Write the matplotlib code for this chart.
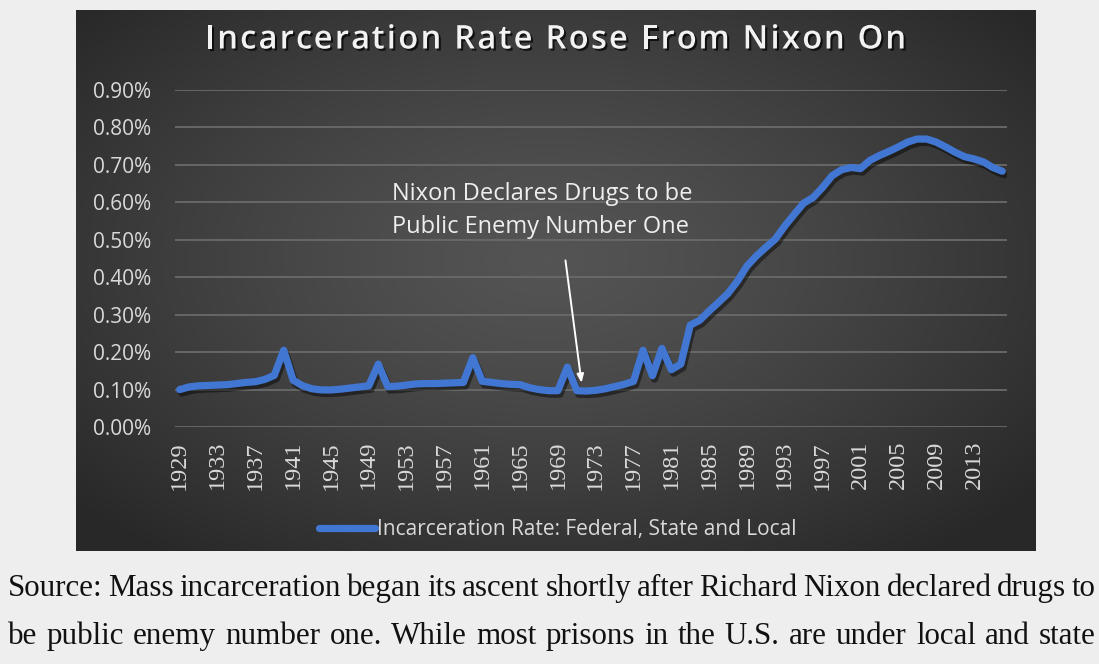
import numpy as np
import matplotlib
matplotlib.use("Agg")
import matplotlib.pyplot as plt
import matplotlib.patheffects as pe

# ---- data ----
years = list(range(1929, 2017))
rate_pct = [
    0.100, 0.107, 0.110, 0.111, 0.112, 0.113, 0.116, 0.119, 0.121, 0.127,
    0.138, 0.205, 0.125, 0.110, 0.102, 0.099, 0.099, 0.101, 0.104, 0.107,
    0.110, 0.168, 0.108, 0.109, 0.112, 0.115, 0.116, 0.116, 0.117, 0.118,
    0.119, 0.185, 0.122, 0.119, 0.116, 0.114, 0.113, 0.105, 0.100, 0.097,
    0.097, 0.160, 0.097, 0.096, 0.098, 0.102, 0.108, 0.114, 0.122, 0.205,
    0.137, 0.210, 0.153, 0.168, 0.272, 0.285, 0.310, 0.333, 0.357, 0.390,
    0.430, 0.457, 0.480, 0.502, 0.537, 0.568, 0.598, 0.613, 0.640, 0.671,
    0.687, 0.693, 0.690, 0.712, 0.725, 0.736, 0.748, 0.761, 0.769, 0.769,
    0.761, 0.748, 0.734, 0.722, 0.716, 0.708, 0.693, 0.683,
]
tick_years = list(range(1929, 2017, 4))
y_ticks = [0.0, 0.1, 0.2, 0.3, 0.4, 0.5, 0.6, 0.7, 0.8, 0.9]
title = "Incarceration Rate Rose From Nixon On"
series_label = "Incarceration Rate: Federal, State and Local"
annotation_lines = ["Nixon Declares Drugs to be", "Public Enemy Number One"]
caption_lines = [
    "Source: Mass incarceration began its ascent shortly after Richard Nixon declared drugs to",
    "be public enemy number one. While most prisons in the U.S. are under local and state",
]

W, H = 1099, 664
fig = plt.figure(figsize=(W / 100, H / 100), dpi=100, facecolor="#eeeeee")
renderer = fig.canvas.get_renderer()

def fx(px):
    return px / W

def fy(py):
    return 1 - py / H

# ---- dark gradient panel ----
pl, pr, pt, pb = 76, 1036, 10, 551
bg = fig.add_axes([fx(pl), fy(pb), fx(pr - pl), fy(pt) - fy(pb)], zorder=0)
gx = np.linspace(-1, 1, 400)
gy = np.linspace(-1, 1, 240)
GX, GY = np.meshgrid(gx, gy)
r = np.sqrt(((GX + 0.02) / 1.0) ** 2 + ((GY + 0.08) / 1.05) ** 2)
r = np.clip(r, 0, 1.3)
val = 0.33 - 0.17 * (r / 1.3) ** 1.3
img = np.dstack([val, val, val])
bg.imshow(img, aspect="auto", extent=[0, 1, 0, 1], interpolation="bilinear")
bg.set_axis_off()

# ---- main axes ----
ax_l, ax_r, ax_t, ax_b = 175, 1007, 90, 427
ax = fig.add_axes([fx(ax_l), fy(ax_b), fx(ax_r - ax_l), fy(ax_t) - fy(ax_b)], zorder=2)
ax.set_facecolor("none")
ax.set_xlim(years[0] - 0.5, years[-1] + 0.5)
ax.set_ylim(0, 0.9)
for s in ax.spines.values():
    s.set_visible(False)
ax.set_yticks(y_ticks)
ax.set_yticklabels([f"{v:.2f}%" for v in y_ticks], family="Open Sans",
                   fontsize=15, color="#d9d9d9")
ax.set_xticks(tick_years)
ax.set_xticklabels([str(y) for y in tick_years], rotation=90,
                   family="Liberation Serif", fontsize=17.5, color="#d9d9d9")
ax.tick_params(axis="both", length=0)
ax.tick_params(axis="y", pad=17)
ax.tick_params(axis="x", pad=10)
ax.grid(axis="y", color="#6a6a6a", linewidth=1.3)
ax.set_axisbelow(True)

line, = ax.plot(years, rate_pct, color="#4177d2", linewidth=5.2,
                solid_joinstyle="round", solid_capstyle="round", zorder=3,
                path_effects=[pe.SimpleLineShadow(offset=(1.5, -2.5), shadow_color="black", alpha=0.45),
                              pe.Normal()])

# annotation arrow and text
ax.annotate("", xy=(1971.5, 0.118), xytext=(1969.8, 0.445),
            arrowprops=dict(arrowstyle="-|>,head_length=0.5,head_width=0.2",
                            color="white", lw=1.4, shrinkA=0, shrinkB=0))
for txt, base in zip(annotation_lines, [200, 233]):
    fig.text(fx(392), fy(base), txt, family="Open Sans", fontsize=17,
             color="#eeeeee", ha="left", va="baseline")

# title with letter spacing
title_kw = dict(family="Open Sans", fontweight="semibold", fontsize=23.5,
                color="#f2f2f2", va="baseline", ha="left",
                path_effects=[pe.withSimplePatchShadow(offset=(1.5, -1.5),
                                                       shadow_rgbFace="black", alpha=0.7)])
probe = fig.text(0, 0, "|", **title_kw)
bar_w = probe.get_window_extent(renderer).width
offsets = []
for i in range(len(title) + 1):
    probe.set_text(title[:i] + "|")
    offsets.append(probe.get_window_extent(renderer).width - bar_w)
probe.remove()
natural = offsets[-1]
target_l, target_r = 205, 906
spacing = (target_r - target_l - natural) / (len(title) - 1)
for i, ch in enumerate(title):
    if ch == " ":
        continue
    fig.text(fx(target_l + offsets[i] + i * spacing), fy(48.5), ch, **title_kw)

# legend, centred on the panel
leg = ax.legend([line], [series_label], loc="center",
                bbox_to_anchor=((558 - ax_l) / (ax_r - ax_l), (ax_b - 530) / (ax_b - ax_t)),
                frameon=False, handlelength=2.7, handletextpad=0.1,
                prop={"family": "Open Sans", "size": 15})
for t in leg.get_texts():
    t.set_color("#d9d9d9")
for h in leg.legend_handles:
    h.set_path_effects([])

# caption with justification
left_px, right_px = 8, 1096
baselines = [596, 644]
for text_line, base in zip(caption_lines, baselines):
    words = text_line.split(" ")
    objs = [fig.text(0, fy(base), w, family="Liberation Serif", fontsize=22.3,
                     color="#111111", ha="left", va="baseline") for w in words]
    widths = [o.get_window_extent(renderer).width for o in objs]
    gap = (right_px - left_px - sum(widths)) / (len(words) - 1)
    x = left_px
    for o, w in zip(objs, widths):
        o.set_x(fx(x))
        x += w + gap

fig.savefig("out.png", dpi=100, facecolor=fig.get_facecolor())
